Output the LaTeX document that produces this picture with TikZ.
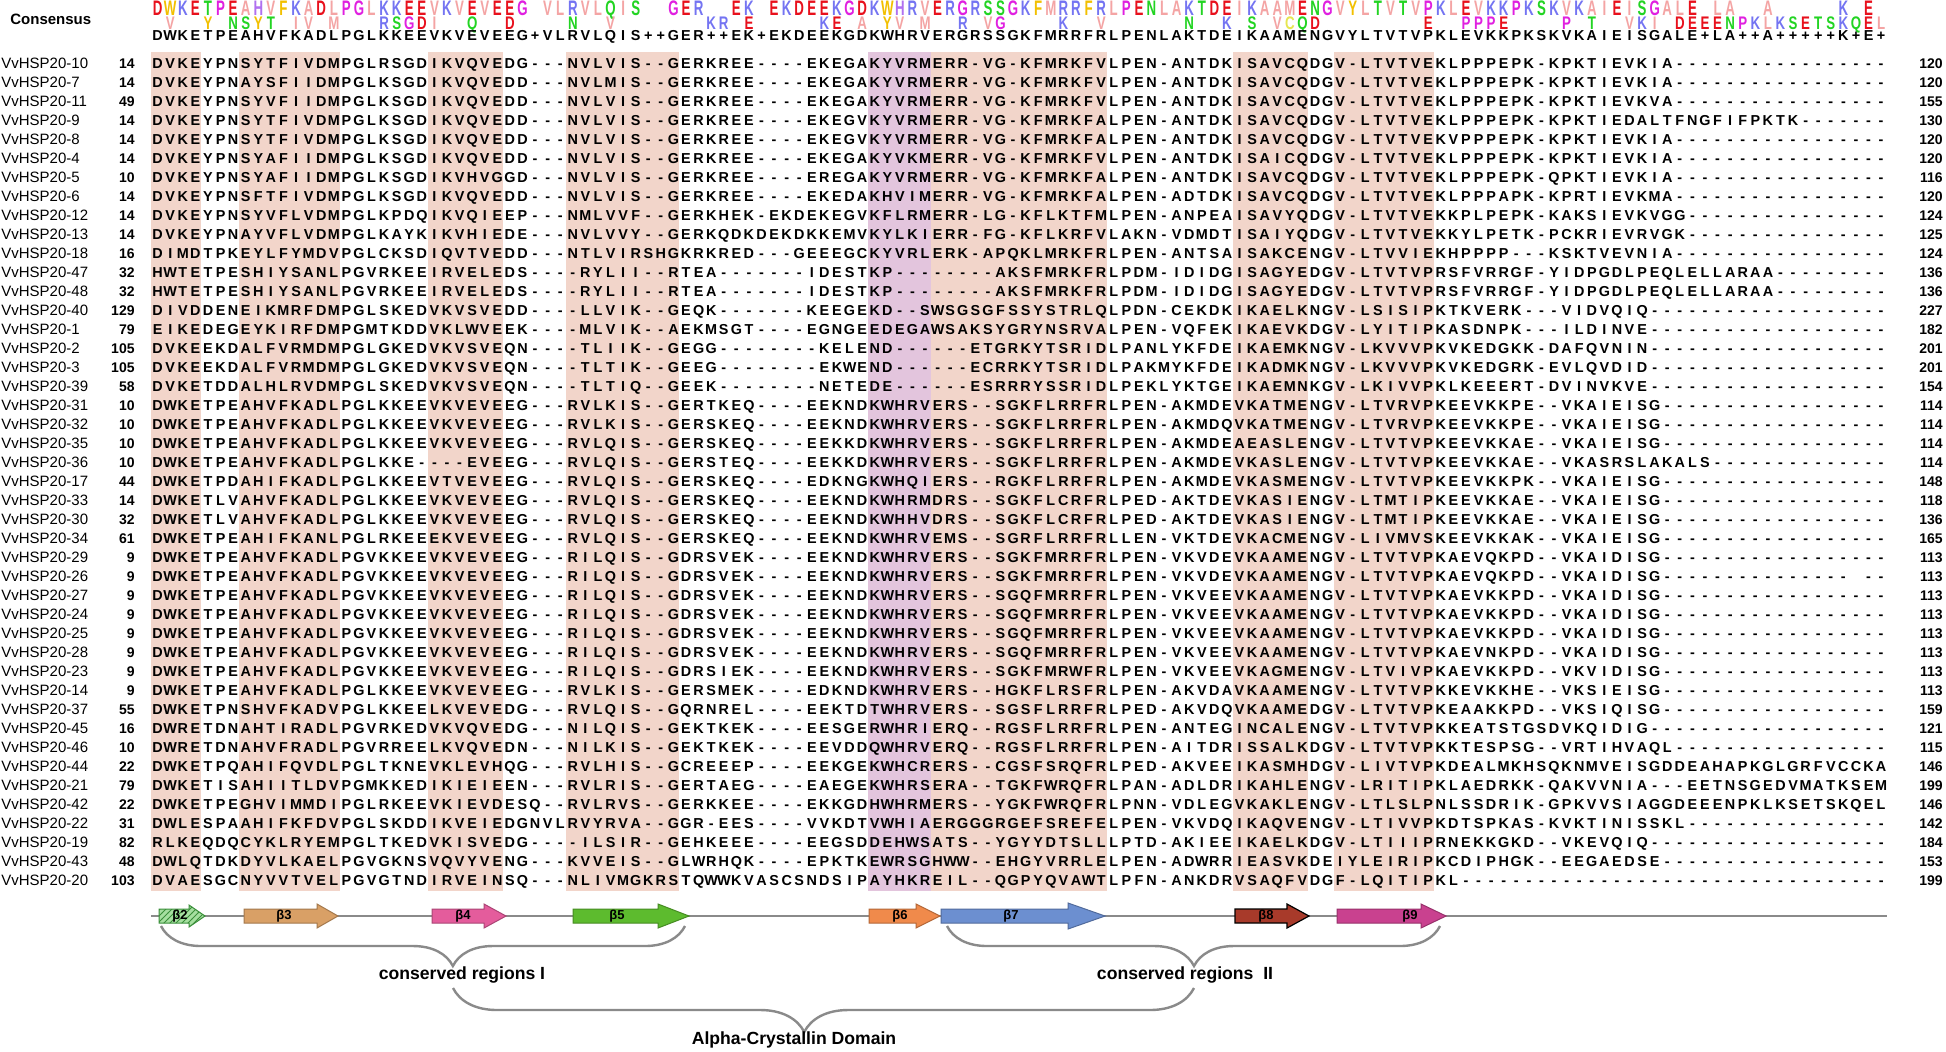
\documentclass[tikz,border=0pt]{standalone}
\usepackage{fontspec}
\setmainfont{Liberation Sans}
\usepackage{graphicx}
\usetikzlibrary{decorations.pathreplacing,patterns}

\definecolor{shadepink}{HTML}{F2D5CA}
\definecolor{shadepurple}{HTML}{E3C5DD}
\definecolor{lgray}{HTML}{8A8A8A}
% logo colours
\definecolor{lcD}{HTML}{E8101C}\definecolor{lcE}{HTML}{E8101C}
\definecolor{lcK}{HTML}{7474F2}\definecolor{lcR}{HTML}{7474F2}\definecolor{lcH}{HTML}{B070F0}
\definecolor{lcS}{HTML}{22D422}\definecolor{lcT}{HTML}{22D422}\definecolor{lcN}{HTML}{22D422}\definecolor{lcQ}{HTML}{22D422}
\definecolor{lcG}{HTML}{E020E0}\definecolor{lcP}{HTML}{E020E0}
\definecolor{lcA}{HTML}{F4A4A4}\definecolor{lcV}{HTML}{F4A4A4}\definecolor{lcL}{HTML}{F4A4A4}\definecolor{lcI}{HTML}{F4A4A4}\definecolor{lcM}{HTML}{F4A4A4}
\definecolor{lcF}{HTML}{F2C000}\definecolor{lcW}{HTML}{F2C000}\definecolor{lcY}{HTML}{F2C000}\definecolor{lcC}{HTML}{E6E650}
% arrow colours
\definecolor{bTwo}{HTML}{A6DFA0}\definecolor{bTwoL}{HTML}{3A8F3A}
\definecolor{bThree}{HTML}{D9A066}\definecolor{bFour}{HTML}{E45C9C}
\definecolor{bFive}{HTML}{5DBB2E}\definecolor{bSix}{HTML}{F08A4B}
\definecolor{bSeven}{HTML}{6C8FD0}\definecolor{bEight}{HTML}{A83A2A}
\definecolor{bNine}{HTML}{C9418F}

\newlength\colw \setlength\colw{6.29pt}
\newcount\rescount
\makeatletter
\def\seq#1{\rescount=0 \seq@loop#1\relax\seq@pad}
\def\seq@loop#1{\ifx\relax#1\else\advance\rescount by 1 \makebox[\colw]{\ifx.#1\else#1\fi}\expandafter\seq@loop\fi}
\def\seq@pad{\ifnum\rescount<138 \advance\rescount by 1 \makebox[\colw]{-}\expandafter\seq@pad\fi}
\def\logoscale{1.5}
\def\logo#1{\logo@loop#1\relax}
\def\logo@loop#1{\ifx\relax#1\else\makebox[\colw]{\ifx.#1\else\textcolor{lc#1}{\scalebox{0.95}[\logoscale]{#1}}\fi}\expandafter\logo@loop\fi}
\makeatother

\newcommand\colblock[3]{\fill[#3] ({151+12.58*(#1-1)},52) rectangle ({151+12.58*(#2)},891);}
\newcommand\seqrow[5]{%
  \pgfmathsetmacro\rowy{63+19*(#1-1)}%
  \node[lbl] (lab#1) at (1,\rowy) {VvHSP20-#2};%
  \node[numl] (st#1) at (135,\rowy) {#3};%
  \node[seqn] (sq#1) at (151,\rowy) {\seq{#5}};%
  \node[numl] (en#1) at (1943,\rowy) {#4};%
}
\newcommand\sarrow[5]{%
  \path[#4] (#1,909) -- ({#2-#3},909) -- ({#2-#3},{916-#5}) -- (#2,916) -- ({#2-#3},{916+#5}) -- ({#2-#3},923) -- (#1,923) -- cycle;}

\begin{document}
\begin{tikzpicture}[x=0.5pt,y=-0.5pt,
  lbl/.style={anchor=west,inner sep=0pt,font=\fontsize{7.5}{8}\selectfont,text height=5.4pt,text depth=0pt},
  numl/.style={anchor=east,inner sep=0pt,font=\bfseries\fontsize{7}{8}\selectfont,text height=5pt,text depth=0pt},
  seqn/.style={anchor=west,inner sep=0pt,font=\bfseries\fontsize{7.2}{8}\selectfont,text height=5.15pt,text depth=0pt},
  logon/.style={anchor=base west,inner sep=0pt,font=\bfseries\fontsize{7}{8}\selectfont},
  blab/.style={inner sep=0pt,font=\bfseries\fontsize{8.8}{10}\selectfont},
  betal/.style={inner sep=0pt,font=\bfseries\fontsize{6.5}{7}\selectfont},
  bracestyle/.style={decorate,draw=lgray,line width=1.2pt}]
\useasboundingbox (0,0) rectangle (1946,1051);
\fill[white] (0,0) rectangle (1946,1051);

% shading
\colblock{1}{4}{shadepink}
\colblock{8}{15}{shadepink}
\colblock{23}{28}{shadepink}
\colblock{34}{42}{shadepink}
\colblock{58}{62}{shadepurple}
\colblock{63}{76}{shadepink}
\colblock{87}{92}{shadepink}
\colblock{95}{102}{shadepink}

% consensus logo and line
\node[anchor=west,inner sep=0pt,font=\bfseries\fontsize{7.5}{8}\selectfont] (conslab) at (10,19) {Consensus};
\node[logon] (logoA) at (151,15) {\logo{DWKETPEAHVFKADLPGLKKEEVKVEVEEG.VLRVLQIS..GER..EK.EKDEEKGDKWHRVERGRSSGKFMRRFRLPENLAKTDEIKAAMENGVYLTVTVPKLEVKKPKSKVKAIEISGALE.LA..A.....K.E.}};
\def\logoscale{1.3}
\node[logon] (logoB) at (151,29) {\logo{.V..Y.NSYT.IV.M...RSGDI..Q..D....N..V.......KR.E.....KE.A.YV.M..R.VG....K..V......N..K.S.VCQD........E..PPPE....P.T..VKI.DEEENPKLKSETSKQEL}};
\node[seqn] (cons) at (151,35) {\seq{DWKETPEAHVFKADLPGLKKEEVKVEVEEG+VLRVLQIS++GER++EK+EKDEEKGDKWHRVERGRSSGKFMRRFRLPENLAKTDEIKAAMENGVYLTVTVPKLEVKKPKSKVKAIEISGALE+LA++A+++++K+E+}};

% alignment rows
\seqrow{1}{10}{14}{120}{DVKEYPNSYTFIVDMPGLRSGDIKVQVEDG --- NVLVIS --GERKREE ----EKEGA KYVRM ERR-VG-KFMRKFV LPEN-ANTDK ISAVCQ DGV-LTVTVE KLPPPEPK-KPKTIEVKIA}
\seqrow{2}{7}{14}{120}{DVKEYPNAYSFIIDMPGLKSGDIKVQVEDD --- NVLMIS --GERKREE ----EKEGA KYVRM ERR-VG-KFMRKFV LPEN-ANTDK ISAVCQ DGV-LTVTVE KLPPPEPK-KPKTIEVKIA}
\seqrow{3}{11}{49}{155}{DVKEYPNSYVFIIDMPGLKSGDIKVQVEDD --- NVLVIS --GERKREE ----EKEGA KYVRM ERR-VG-KFMRKFV LPEN-ANTDK ISAVCQ DGV-LTVTVE KLPPPEPK-KPKTIEVKVA}
\seqrow{4}{9}{14}{130}{DVKEYPNSYTFIVDMPGLKSGDIKVQVEDD --- NVLVIS --GERKREE ----EKEGV KYVRM ERR-VG-KFMRKFA LPEN-ANTDK ISAVCQ DGV-LTVTVE KLPPPEPK-KPKTIEDALTFNGFIFPKTK}
\seqrow{5}{8}{14}{120}{DVKEYPNSYTFIVDMPGLKSGDIKVQVEDD --- NVLVIS --GERKREE ----EKEGV KYVRM ERR-VG-KFMRKFA LPEN-ANTDK ISAVCQ DGV-LTVTVE KVPPPEPK-KPKTIEVKIA}
\seqrow{6}{4}{14}{120}{DVKEYPNSYAFIIDMPGLKSGDIKVQVEDD --- NVLVIS --GERKREE ----EKEGA KYVKM ERR-VG-KFMRKFV LPEN-ANTDK ISAICQ DGV-LTVTVE KLPPPEPK-KPKTIEVKIA}
\seqrow{7}{5}{10}{116}{DVKEYPNSYAFIIDMPGLKSGDIKVHVGGD --- NVLVIS --GERKREE ----EREGA KYVRM ERR-VG-KFMRKFA LPEN-ANTDK ISAVCQ DGV-LTVTVE KLPPPEPK-QPKTIEVKIA}
\seqrow{8}{6}{14}{120}{DVKEYPNSFTFIVDMPGLKSGDIKVQVEDD --- NVLVIS --GERKREE ----EKEDA KHVIM ERR-VG-KFMRKFA LPEN-ADTDK ISAVCQ DGV-LTVTVE KLPPPAPK-KPRTIEVKMA}
\seqrow{9}{12}{14}{124}{DVKEYPNSYVFLVDMPGLKPDQIKVQIEEP --- NMLVVF --GERKHEK -EKDEKEGV KFLRM ERR-LG-KFLKTFM LPEN-ANPEA ISAVYQ DGV-LTVTVE KKPLPEPK-KAKSIEVKVGG}
\seqrow{10}{13}{14}{125}{DVKEYPNAYVFLVDMPGLKAYKIKVHIEDE --- NVLVVY --GERKQDK DEKDKKEMV KYLKI ERR-FG-KFLKRFV LAKN-VDMDT ISAIYQ DGV-LTVTVE KKYLPETK-PCKRIEVRVGK}
\seqrow{11}{18}{16}{124}{DIMDTPKEYLFYMDVPGLCKSDIQVTVEDD --- NTLVIR SHGKRKRED ---GEEEGC KYVRL ERK-APQKLMRKFR LPEN-ANTSA ISAKCE NGV-LTVVIE KHPPPP---KSKTVEVNIA}
\seqrow{12}{47}{32}{136}{HWTETPESHIYSANLPGVRKEEIRVELEDS --- -RYLII --RTEA--- ----IDEST KP--- -----AKSFMRKFR LPDM-IDIDG ISAGYE DGV-LTVTVP RSFVRRGF-YIDPGDLPEQLELLARAA}
\seqrow{13}{48}{32}{136}{HWTETPESHIYSANLPGVRKEEIRVELEDS --- -RYLII --RTEA--- ----IDEST KP--- -----AKSFMRKFR LPDM-IDIDG ISAGYE DGV-LTVTVP RSFVRRGF-YIDPGDLPEQLELLARAA}
\seqrow{14}{40}{129}{227}{DIVDDENEIKMRFDMPGLSKEDVKVSVEDD --- -LLVIK --GEQK--- ----KEEGE KD--S WSGSGFSSYSTRLQ LPDN-CEKDK IKAELK NGV-LSISIP KTKVERK---VIDVQIQ}
\seqrow{15}{1}{79}{182}{EIKEDEGEYKIRFDMPGMTKDDVKLWVEEK --- -MLVIK --AEKMSGT ----EGNGE EDEGA WSAKSYGRYNSRVA LPEN-VQFEK IKAEVK DGV-LYITIP KASDNPK---ILDINVE}
\seqrow{16}{2}{105}{201}{DVKEEKDALFVRMDMPGLGKEDVKVSVEQN --- -TLIIK --GEGG--- -----KELE ND--- ---ETGRKYTSRID LPANLYKFDE IKAEMK NGV-LKVVVP KVKEDGKK-DAFQVNIN}
\seqrow{17}{3}{105}{201}{DVKEEKDALFVRMDMPGLGKEDVKVSVEQN --- -TLTIK --GEEG--- -----EKWE ND--- ---ECRRKYTSRID LPAKMYKFDE IKADMK NGV-LKVVVP KVKEDGRK-EVLQVDID}
\seqrow{18}{39}{58}{154}{DVKETDDALHLRVDMPGLSKEDVKVSVEQN --- -TLTIQ --GEEK--- -----NETE DE--- ---ESRRRYSSRID LPEKLYKTGE IKAEMN KGV-LKIVVP KLKEEERT-DVINVKVE}
\seqrow{19}{31}{10}{114}{DWKETPEAHVFKADLPGLKKEEVKVEVEEG --- RVLKIS --GERTKEQ ----EEKND KWHRV ERS--SGKFLRRFR LPEN-AKMDE VKATME NGV-LTVRVP KEEVKKPE--VKAIEISG}
\seqrow{20}{32}{10}{114}{DWKETPEAHVFKADLPGLKKEEVKVEVEEG --- RVLKIS --GERSKEQ ----EEKND KWHRV ERS--SGKFLRRFR LPEN-AKMDQ VKATME NGV-LTVRVP KEEVKKPE--VKAIEISG}
\seqrow{21}{35}{10}{114}{DWKETPEAHVFKADLPGLKKEEVKVEVEEG --- RVLQIS --GERSKEQ ----EEKKD KWHRV ERS--SGKFLRRFR LPEN-AKMDE AEASLE NGV-LTVTVP KEEVKKAE--VKAIEISG}
\seqrow{22}{36}{10}{114}{DWKETPEAHVFKADLPGLKKE----EVEEG --- RVLQIS --GERSTEQ ----EEKKD KWHRV ERS--SGKFLRRFR LPEN-AKMDE VKASLE NGV-LTVTVP KEEVKKAE--VKASRSLAKALS}
\seqrow{23}{17}{44}{148}{DWKETPDAHIFKADLPGLKKEEVTVEVEEG --- RVLQIS --GERSKEQ ----EDKNG KWHQI ERS--RGKFLRRFR LPEN-AKMDE VKASME NGV-LTVTVP KEEVKKPK--VKAIEISG}
\seqrow{24}{33}{14}{118}{DWKETLVAHVFKADLPGLKKEEVKVEVEEG --- RVLQIS --GERSKEQ ----EEKND KWHRM DRS--SGKFLCRFR LPED-AKTDE VKASIE NGV-LTMTIP KEEVKKAE--VKAIEISG}
\seqrow{25}{30}{32}{136}{DWKETLVAHVFKADLPGLKKEEVKVEVEEG --- RVLQIS --GERSKEQ ----EEKND KWHHV DRS--SGKFLCRFR LPED-AKTDE VKASIE NGV-LTMTIP KEEVKKAE--VKAIEISG}
\seqrow{26}{34}{61}{165}{DWKETPEAHIFKANLPGLRKEEEKVEVEEG --- RVLQIS --GERSKEQ ----EEKND KWHRV EMS--SGRFLRRFR LLEN-VKTDE VKACME NGV-LIVMVS KEEVKKAK--VKAIEISG}
\seqrow{27}{29}{9}{113}{DWKETPEAHVFKADLPGVKKEEVKVEVEEG --- RILQIS --GDRSVEK ----EEKND KWHRV ERS--SGKFMRRFR LPEN-VKVDE VKAAME NGV-LTVTVP KAEVQKPD--VKAIDISG}
\seqrow{28}{26}{9}{113}{DWKETPEAHVFKADLPGVKKEEVKVEVEEG --- RILQIS --GDRSVEK ----EEKND KWHRV ERS--SGKFMRRFR LPEN-VKVDE VKAAME NGV-LTVTVP KAEVQKPD--VKAIDISG ---------------.--}
\seqrow{29}{27}{9}{113}{DWKETPEAHVFKADLPGVKKEEVKVEVEEG --- RILQIS --GDRSVEK ----EEKND KWHRV ERS--SGQFMRRFR LPEN-VKVEE VKAAME NGV-LTVTVP KAEVKKPD--VKAIDISG}
\seqrow{30}{24}{9}{113}{DWKETPEAHVFKADLPGVKKEEVKVEVEEG --- RILQIS --GDRSVEK ----EEKND KWHRV ERS--SGQFMRRFR LPEN-VKVEE VKAAME NGV-LTVTVP KAEVKKPD--VKAIDISG}
\seqrow{31}{25}{9}{113}{DWKETPEAHVFKADLPGVKKEEVKVEVEEG --- RILQIS --GDRSVEK ----EEKND KWHRV ERS--SGQFMRRFR LPEN-VKVEE VKAAME NGV-LTVTVP KAEVKKPD--VKAIDISG}
\seqrow{32}{28}{9}{113}{DWKETPEAHVFKADLPGVKKEEVKVEVEEG --- RILQIS --GDRSVEK ----EEKND KWHRV ERS--SGQFMRRFR LPEN-VKVEE VKAAME NGV-LTVTVP KAEVNKPD--VKAIDISG}
\seqrow{33}{23}{9}{113}{DWKETPEAHVFKADLPGVKKEEVKVEVEEG --- RILQIS --GDRSIEK ----EEKND KWHRV ERS--SGKFMRWFR LPEN-VKVEE VKAGME NGV-LTVIVP KAEVKKPD--VKVIDISG}
\seqrow{34}{14}{9}{113}{DWKETPEAHVFKADLPGLKKEEVKVEVEEG --- RVLKIS --GERSMEK ----EDKND KWHRV ERS--HGKFLRSFR LPEN-AKVDA VKAAME NGV-LTVTVP KKEVKKHE--VKSIEISG}
\seqrow{35}{37}{55}{159}{DWKETPNSHVFKADVPGLKKEELKVEVEDG --- RVLQIS --GQRNREL ----EEKTD TWHRV ERS--SGSFLRRFR LPED-AKVDQ VKAAME DGV-LTVTVP KEAAKKPD--VKSIQISG}
\seqrow{36}{45}{16}{121}{DWRETDNAHTIRADLPGVRKEDVKVQVEDG --- NILQIS --GEKTKEK ----EESGE RWHRI ERQ--RGSFLRRFR LPEN-ANTEG INCALE NGV-LTVTVP KKEATSTGSDVKQIDIG}
\seqrow{37}{46}{10}{115}{DWRETDNAHVFRADLPGVRREELKVQVEDN --- NILKIS --GEKTKEK ----EEVDD QWHRV ERQ--RGSFLRRFR LPEN-AITDR ISSALK DGV-LTVTVP KKTESPSG--VRTIHVAQL}
\seqrow{38}{44}{22}{146}{DWKETPQAHIFQVDLPGLTKNEVKLEVHQG --- RVLHIS --GCREEEP ----EEKGE KWHCR ERS--CGSFSRQFR LPED-AKVEE IKASMH DGV-LIVTVP KDEALMKHSQKNMVEISGDDEAHAPKGLGRFVCCKA}
\seqrow{39}{21}{79}{199}{DWKETISAHIITLDVPGMKKEDIKIEIEEN --- RVLRIS --GERTAEG ----EAEGE KWHRS ERA--TGKFWRQFR LPAN-ADLDR IKAHLE NGV-LRITIP KLAEDRKK-QAKVVNIA---EETNSGEDVMATKSEM}
\seqrow{40}{42}{22}{146}{DWKETPEGHVIMMDIPGLRKEEVKIEVDES Q-- RVLRVS --GERKKEE ----EKKGD HWHRM ERS--YGKFWRQFR LPNN-VDLEG VKAKLE NGV-LTLSLP NLSSDRIK-GPKVVSIAGGDEEENPKLKSETSKQEL}
\seqrow{41}{22}{31}{142}{DWLESPAAHIFKFDVPGLSKDDIKVEIEDG NVL RVYRVA --GGR-EES ----VVKDT VWHIA ERGGGRGEFSREFE LPEN-VKVDQ IKAQVE NGV-LTIVVP KDTSPKAS-KVKTINISSKL}
\seqrow{42}{19}{82}{184}{RLKEQDQCYKLRYEMPGLTKEDVKISVEDG --- -ILSIR --GEHKEEE ----EEGSD DEHWS ATS--YGYYDTSLL LPTD-AKIEE IKAELK DGV-LTIIIP RNEKKGKD--VKEVQIQ}
\seqrow{43}{43}{48}{153}{DWLQTDKDYVLKAELPGVGKNSVQVYVENG --- KVVEIS --GLWRHQK ----EPKTK EWRSG HWW--EHGYVRRLE LPEN-ADWRR IEASVK DEIYLEIRIP KCDIPHGK--EEGAEDSE}
\seqrow{44}{20}{103}{199}{DVAESGCNYVVTVELPGVGTNDIRVEINSQ --- NLIVMG KRSTQWWKV ASCSNDSIP AYHKR EIL--QGPYQVAWT LPFN-ANKDR VSAQFV DGF-LQITIP KL}

% secondary structure track
\coordinate (ssL) at (151,916);
\coordinate (ssR) at (1887,916);
\draw[lgray,line width=1pt] (ssL) -- (ssR);
\sarrow{159}{205}{16}{fill=bTwo,draw=bTwoL,line width=0.5pt,postaction={pattern=north east lines,pattern color=bTwoL}}{11}
\sarrow{244}{338}{21}{fill=bThree,draw=bThree!75!black,line width=0.5pt}{12}
\sarrow{432}{506}{22}{fill=bFour,draw=bFour!75!black,line width=0.5pt}{12}
\sarrow{573}{689}{31}{fill=bFive,draw=bFive!75!black,line width=0.5pt}{12}
\sarrow{869}{940}{24}{fill=bSix,draw=bSix!75!black,line width=0.5pt}{12}
\sarrow{941}{1105}{37}{fill=bSeven,draw=bSeven!75!black,line width=0.5pt}{13}
\sarrow{1235}{1309}{22}{fill=bEight,draw=black,line width=0.6pt}{12}
\sarrow{1337}{1446}{25}{fill=bNine,draw=bNine!75!black,line width=0.5pt}{12}
\node[betal] (bt2) at (180,916) {β2};
\node[betal] (bt3) at (284,916) {β3};
\node[betal] (bt4) at (463,916) {β4};
\node[betal] (bt5) at (617,916) {β5};
\node[betal] (bt6) at (900,916) {β6};
\node[betal] (bt7) at (1011,916) {β7};
\node[betal] (bt8) at (1266,916) {β8};
\node[betal] (bt9) at (1410,916) {β9};

% braces
\coordinate (bA1) at (161,926); \coordinate (bA2) at (685,926);
\coordinate (bB1) at (947,926); \coordinate (bB2) at (1440,926);
\coordinate (bC1) at (453,988); \coordinate (bC2) at (1194,988);
\draw[bracestyle,decoration={brace,mirror,amplitude=20pt,aspect=0.557}] (bA1) -- (bA2);
\draw[bracestyle,decoration={brace,mirror,amplitude=20pt,aspect=0.501}] (bB1) -- (bB2);
\draw[bracestyle,decoration={brace,mirror,amplitude=22pt,aspect=0.474}] (bC1) -- (bC2);
\node[blab] (crI) at (462,975) {conserved regions I};
\node[blab] (crII) at (1185,975) {conserved regions\ \ II};
\node[blab] (acd) at (794,1040) {Alpha-Crystallin Domain};
\end{tikzpicture}
\end{document}
